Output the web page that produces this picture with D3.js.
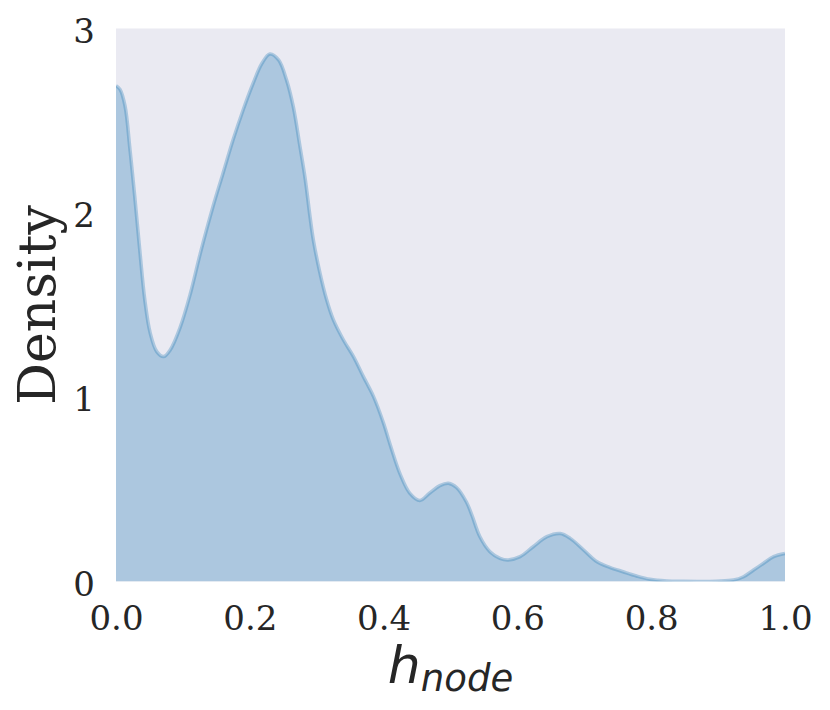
<!DOCTYPE html>
<html>
<head>
<meta charset="utf-8">
<script src="https://cdn.jsdelivr.net/npm/d3@7"></script>
<style>
  html, body { margin: 0; padding: 0; background: #ffffff; }
  svg { display: block; }
</style>
</head>
<body>
<svg id="chart" width="830" height="710"></svg>
<script>
// ---- data ----
const hNode = [0.000, 0.006, 0.0135, 0.021, 0.028, 0.036, 0.043, 0.051, 0.061, 0.071,
  0.081, 0.096, 0.111, 0.126, 0.145, 0.160, 0.175, 0.190, 0.205, 0.218,
  0.230, 0.243, 0.255, 0.265, 0.275, 0.283, 0.290, 0.295, 0.305, 0.315,
  0.325, 0.340, 0.355, 0.370, 0.385, 0.400, 0.410, 0.425, 0.439, 0.454,
  0.469, 0.484, 0.497, 0.509, 0.524, 0.532, 0.544, 0.559, 0.574, 0.586,
  0.604, 0.624, 0.644, 0.664, 0.679, 0.699, 0.719, 0.738, 0.758, 0.778,
  0.798, 0.823, 0.848, 0.873, 0.898, 0.923, 0.938, 0.953, 0.968, 0.983, 1.000];
const density = [2.69, 2.67, 2.58, 2.34, 2.09, 1.78, 1.53, 1.35, 1.247, 1.22,
  1.256, 1.38, 1.56, 1.78, 2.034, 2.215, 2.396, 2.558, 2.703, 2.81,
  2.862, 2.83, 2.72, 2.576, 2.36, 2.18, 1.98, 1.853, 1.672, 1.527,
  1.419, 1.31, 1.22, 1.11, 1.003, 0.858, 0.74, 0.58, 0.48, 0.44,
  0.48, 0.52, 0.533, 0.51, 0.43, 0.36, 0.243, 0.162, 0.126, 0.117,
  0.135, 0.19, 0.243, 0.26, 0.234, 0.171, 0.107, 0.077, 0.053, 0.030,
  0.012, 0.003, 0.001, 0.0005, 0.002, 0.008, 0.026, 0.062, 0.099, 0.135, 0.152];
const xTicks = [0.0, 0.2, 0.4, 0.6, 0.8, 1.0];
const yTicks = [0, 1, 2, 3];
const yLabel = "Density";
const xLabelMain = "h";
const xLabelSub = "node";

// ---- layout ----
const svg = d3.select("#chart");
const pL = 116, pR = 785, pT = 28.5, pB = 581.5;
const x = d3.scaleLinear().domain([0, 1]).range([pL, pR]);
const y = d3.scaleLinear().domain([0, 3]).range([pB, pT]);

svg.append("rect")
  .attr("x", pL).attr("y", pT)
  .attr("width", pR - pL).attr("height", pB - pT)
  .attr("fill", "#eaeaf2");

const pts = hNode.map((v, i) => [v, density[i]]);

const curve = d3.curveCatmullRom.alpha(0.5);
const area = d3.area()
  .x(d => x(d[0])).y0(y(0)).y1(d => y(d[1]))
  .curve(curve);
const line = d3.line()
  .x(d => x(d[0])).y(d => y(d[1]))
  .curve(curve);

svg.append("clipPath").attr("id", "clip")
  .append("rect").attr("x", pL).attr("y", pT)
  .attr("width", pR - pL).attr("height", pB - pT);

const g = svg.append("g").attr("clip-path", "url(#clip)");
g.append("path").datum(pts).attr("d", area)
  .attr("fill", "#1f77b4").attr("fill-opacity", 0.3);
g.append("path").datum(pts).attr("d", line)
  .attr("fill", "none").attr("stroke", "#1f77b4")
  .attr("stroke-opacity", 0.3).attr("stroke-width", 3.5)
  .attr("stroke-linejoin", "round");

// ---- axes ----
const xAxis = d3.axisBottom(x).tickValues(xTicks).tickFormat(d3.format(".1f")).tickSize(0).tickPadding(0);
const yAxis = d3.axisLeft(y).tickValues(yTicks).tickFormat(d3.format("d")).tickSize(0).tickPadding(0);

const gx = svg.append("g").attr("transform", `translate(0,${pB})`).call(xAxis);
gx.select(".domain").remove();
gx.selectAll("text")
  .attr("y", 48.5).attr("dy", null)
  .attr("font-family", "'DejaVu Serif', serif").attr("font-size", 34)
  .attr("fill", "#262626");

const gy = svg.append("g").attr("transform", `translate(${pL},0)`).call(yAxis);
gy.select(".domain").remove();
gy.selectAll("text")
  .attr("x", -21).attr("dy", "0.4em")
  .attr("font-family", "'DejaVu Serif', serif").attr("font-size", 34)
  .attr("fill", "#262626");

// ---- labels ----
svg.append("text")
  .attr("transform", `translate(55,${(pT + pB) / 2}) rotate(-90)`)
  .attr("text-anchor", "middle")
  .attr("font-family", "'DejaVu Serif', serif").attr("font-size", 52)
  .attr("fill", "#262626")
  .text(yLabel);

const xl = svg.append("text")
  .attr("x", (pL + pR) / 2).attr("y", 683)
  .attr("text-anchor", "middle")
  .attr("font-family", "'DejaVu Sans', sans-serif").attr("font-style", "italic")
  .attr("fill", "#262626");
xl.append("tspan").attr("font-size", 52).text(xLabelMain);
xl.append("tspan").attr("font-size", 37).attr("dy", 8).text(xLabelSub);
</script>
</body>
</html>
